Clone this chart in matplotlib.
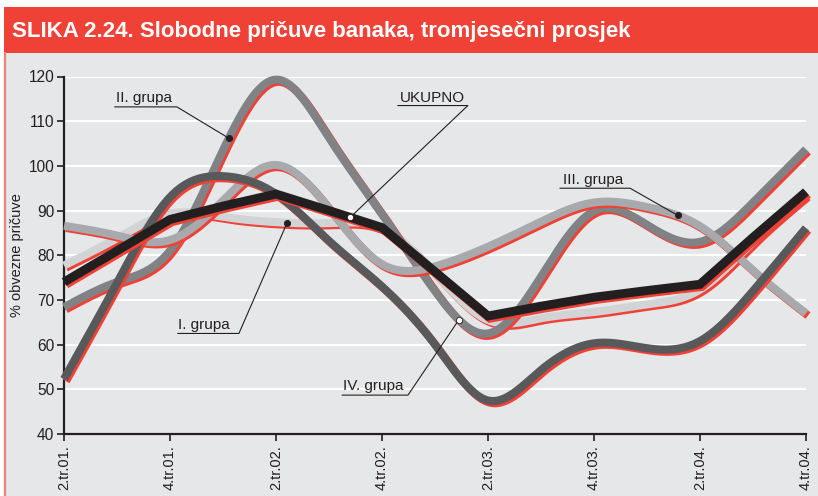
import numpy as np
import matplotlib
matplotlib.use("Agg")
import matplotlib.pyplot as plt
from matplotlib import transforms
from matplotlib.patches import Rectangle
from matplotlib.lines import Line2D

plt.rcParams['font.family'] = ['Liberation Sans', 'DejaVu Sans']

# quarterly averages, 2.tr.01. - 4.tr.04.
quarters = ["2.tr.01.", "3.tr.01.", "4.tr.01.", "1.tr.02.", "2.tr.02.", "3.tr.02.",
            "4.tr.02.", "1.tr.03.", "2.tr.03.", "3.tr.03.", "4.tr.03.", "1.tr.04.",
            "2.tr.04.", "3.tr.04.", "4.tr.04."]
ukupno = [74.0, 81.0, 88.0, 91.0, 93.7, 90.0, 86.2, 76.3, 66.4, 68.6, 70.6, 72.1, 73.5, 84.0, 94.2]
grupa_1 = [77.7, 83.8, 89.3, 88.6, 87.4, 87.2, 86.0, 76.0, 65.5, 65.9, 67.3, 69.0, 72.3, 83.0, 93.5]
grupa_2 = [68.4, 74.0, 81.0, 103.5, 119.3, 106.3, 89.2, 72.0, 62.5, 75.2, 89.9, 86.8, 83.0, 91.8, 103.7]
grupa_3 = [86.6, 84.4, 83.4, 92.2, 100.2, 90.5, 78.0, 77.5, 81.9, 87.5, 91.8, 90.8, 86.5, 76.6, 67.0]
grupa_4 = [52.3, 73.8, 93.0, 97.7, 93.7, 83.2, 73.0, 60.0, 47.5, 54.3, 60.3, 59.2, 60.8, 72.0, 86.1]

DARK = "#231f20"
RED = "#ef4136"
TITLE = "SLIKA 2.24. Slobodne pričuve banaka, tromjesečni prosjek"


def smooth(y, steps=24):
    # natural cubic spline through the quarterly points (unit spacing)
    y = np.asarray(y, float)
    n = len(y)
    A = np.zeros((n, n))
    b = np.zeros(n)
    A[0, 0] = A[-1, -1] = 1
    for i in range(1, n - 1):
        A[i, i - 1], A[i, i], A[i, i + 1] = 1, 4, 1
        b[i] = 6 * (y[i + 1] - 2 * y[i] + y[i - 1])
    M = np.linalg.solve(A, b)
    t = np.linspace(0, 1, steps, endpoint=False)
    xs, ys = [], []
    for i in range(n - 1):
        s = 1 - t
        ys.append(s * y[i] + t * y[i + 1] + (s**3 - s) * M[i] / 6 + (t**3 - t) * M[i + 1] / 6)
        xs.append(i + t)
    xs.append([n - 1])
    ys.append([y[-1]])
    return np.concatenate(xs), np.concatenate(ys)


W, H = 818, 496
fig = plt.figure(figsize=(W / 100, H / 100), dpi=100, facecolor="white")

# page decoration
fig.patches.append(Rectangle((4 / W, 0), 1, 1 - 53 / H, transform=fig.transFigure,
                             facecolor="#e6e7e8", edgecolor="none", zorder=-10))
fig.patches.append(Rectangle((4 / W, 1 - 53 / H), 1, 46 / H, transform=fig.transFigure,
                             facecolor=RED, edgecolor="none", zorder=-10))
fig.add_artist(Line2D([4.5 / W, 4.5 / W], [0, 1 - 53 / H], transform=fig.transFigure,
                      color="#f07f78", lw=1.6, zorder=-5))
fig.text(12 / W, 1 - 37.5 / H, TITLE, color="white", fontsize=16, fontweight="bold",
         va="baseline")

ax = fig.add_axes([64 / W, 1 - 434 / H, 742 / W, (434 - 76.5) / H])
ax.set_facecolor("none")
ax.set_xlim(0, len(quarters) - 1)
ax.set_ylim(40, 120)

for s in ["top", "right"]:
    ax.spines[s].set_visible(False)
for s in ["left", "bottom"]:
    ax.spines[s].set_color(DARK)
    ax.spines[s].set_linewidth(1.6)

ax.set_yticks(np.arange(40, 121, 10))
ax.set_xticks(np.arange(0, len(quarters), 2))
ax.set_xticklabels(quarters[::2], rotation=90)
ax.tick_params(colors=DARK, labelsize=10.5, length=5, width=1.2, direction="out")
ax.tick_params(axis="y", labelsize=11.2, pad=2)
ax.tick_params(axis="x", pad=3)
ax.yaxis.grid(True, color="white", lw=1.5)
ax.set_axisbelow(True)
ax.set_ylabel("% obvezne pričuve", fontsize=10.5, color=DARK)
ax.yaxis.set_label_coords(-0.054, 0.5)

shadow = transforms.offset_copy(ax.transData, fig=fig, x=2.0, y=-2.2, units="dots")

series = [
    ("I. grupa", grupa_1, "#d1d3d4", True),
    ("II. grupa", grupa_2, "#808285", True),
    ("III. grupa", grupa_3, "#a7a9ac", True),
    ("IV. grupa", grupa_4, "#58595b", True),
    ("UKUPNO", ukupno, DARK, False),
]
curves = {}
z = 3
for name, vals, color, is_smooth in series:
    if is_smooth:
        xs, ys = smooth(vals)
        lw = 5.8
    else:
        xs, ys = np.arange(len(vals)), np.asarray(vals, float)
        lw = 6.4
    curves[name] = (xs, ys)
    ax.plot(xs, ys, color=RED, lw=lw, transform=shadow, zorder=z,
            solid_capstyle="butt", solid_joinstyle="miter", clip_on=False)
    ax.plot(xs, ys, color=color, lw=lw, zorder=z + 1,
            solid_capstyle="butt", solid_joinstyle="miter", clip_on=False)
    z += 2

# labels: (text, curve, text x, baseline y, underline y, underline x0, x1, dot x, white dot)
labels = [
    ("II. grupa", "II. grupa", 0.98, 114.4, 113.2, 0.96, 2.13, 3.11, False),
    ("UKUPNO", "UKUPNO", 6.34, 114.2, 113.5, 6.30, 7.62, 5.40, True),
    ("III. grupa", "III. grupa", 9.42, 95.9, 95.0, 9.36, 10.68, 11.58, False),
    ("I. grupa", "I. grupa", 2.15, 63.6, 62.5, 2.15, 3.30, 4.21, False),
    ("IV. grupa", "II. grupa", 5.26, 49.8, 48.7, 5.25, 6.49, 7.45, True),
]
for text, curve, tx, ty, uy, ux0, ux1, dx, white in labels:
    xs, ys = curves[curve]
    dy = np.interp(dx, xs, ys)
    ax.text(tx, ty, text, fontsize=11, color=DARK, va="baseline", ha="left", zorder=20)
    ax.plot([ux0, ux1, dx], [uy, uy, dy], color=DARK, lw=0.8, zorder=20, clip_on=False)
    ax.plot(dx, dy, "o", ms=4.5, mfc="white" if white else DARK, mec=DARK, mew=0.6,
            zorder=21, clip_on=False)

fig.savefig("out.png", dpi=100, facecolor=fig.get_facecolor())
